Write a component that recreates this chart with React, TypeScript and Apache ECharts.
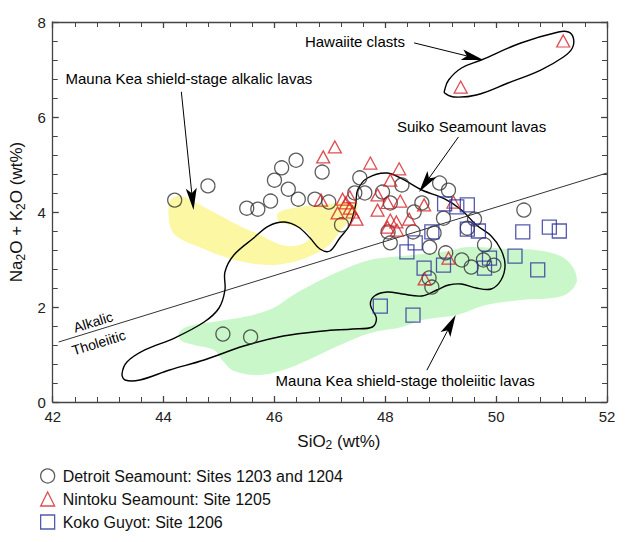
import { useEffect, useRef } from "react";
import * as echarts from "echarts";

const FONT = '"Liberation Sans", Arial, Helvetica, sans-serif';

// Axis ranges (SiO2 wt%, Na2O+K2O wt%)
const xRange = [42, 52];
const yRange = [0, 8];
const xStep = 2;
const yStep = 2;

// Detroit Seamount: Sites 1203 and 1204
const detroit: number[][] = [
  [44.2, 4.25], [44.8, 4.55], [45.5, 4.08], [45.7, 4.06], [45.93, 4.23], [46.0, 4.67],
  [46.13, 4.93], [46.25, 4.48], [46.39, 5.09], [46.43, 4.27], [46.73, 4.27], [46.86, 4.84],
  [46.98, 4.21], [47.21, 3.73], [47.54, 4.72], [47.63, 4.4], [47.45, 4.4], [47.95, 4.42],
  [48.09, 4.19], [48.3, 4.57], [48.66, 4.19], [48.98, 4.61], [49.14, 4.46], [48.05, 3.58],
  [48.09, 3.35], [48.5, 3.58], [48.52, 4.0], [49.05, 3.87], [48.88, 3.56], [48.8, 3.26],
  [49.09, 3.14], [49.38, 2.99], [49.55, 2.84], [49.77, 2.99], [49.96, 2.88], [49.79, 3.31],
  [49.48, 3.66], [49.61, 3.85], [50.5, 4.04], [48.79, 2.61], [48.84, 2.42], [45.07, 1.43],
  [45.57, 1.37],
];

// Nintoku Seamount: Site 1205
const nintoku: number[][] = [
  [49.36, 6.63], [51.21, 7.6], [47.09, 5.37], [46.88, 5.16], [47.73, 5.03], [48.25, 4.91],
  [48.09, 4.67], [47.86, 4.36], [48.04, 4.2], [48.27, 4.23], [48.7, 4.15], [47.86, 4.04],
  [48.43, 3.85], [48.09, 3.83], [48.2, 3.79], [48.04, 3.68], [48.21, 3.62], [47.23, 4.27],
  [47.36, 4.32], [46.84, 4.25], [47.14, 3.98], [47.36, 4.08], [47.41, 4.0], [47.48, 3.85],
  [47.29, 4.19], [49.23, 4.21], [49.14, 3.03], [48.71, 2.59],
];

// Koko Guyot: Site 1206
const koko: number[][] = [
  [49.07, 4.17], [49.29, 4.11], [49.48, 4.15], [49.48, 3.64], [49.68, 3.6], [48.84, 3.58],
  [48.54, 3.35], [48.39, 3.16], [48.7, 2.82], [49.05, 2.88], [49.88, 3.03], [49.79, 2.82],
  [50.34, 3.07], [50.75, 2.78], [50.48, 3.58], [50.96, 3.68], [51.14, 3.6], [47.91, 2.02],
  [48.5, 1.83],
];

// Mauna Kea shield-stage alkalic lavas field
const alkalicField: number[][] = [
  [44.125, 4.253], [44.304, 4.337], [44.589, 4.189], [45.0, 3.937], [45.446, 3.663],
  [45.714, 3.537], [45.911, 3.411], [46.214, 3.284], [46.5, 3.326], [46.643, 3.474],
  [46.518, 3.642], [46.286, 3.726], [46.089, 3.789], [46.054, 3.958], [46.25, 4.063],
  [46.607, 4.126], [46.964, 4.168], [47.286, 4.211], [47.5, 4.15], [47.45, 3.958],
  [47.232, 3.663], [46.964, 3.284], [46.607, 3.053], [46.25, 2.926], [45.893, 2.884],
  [45.446, 2.947], [45.0, 3.095], [44.643, 3.263], [44.339, 3.411], [44.161, 3.579],
  [44.089, 3.937],
];

// Mauna Kea shield-stage tholeiitic lavas field
const tholeiiticField: number[][] = [
  [44.286, 1.474], [44.464, 1.6], [45.0, 1.705], [45.536, 1.811], [45.982, 1.979],
  [46.339, 2.253], [46.696, 2.484], [47.143, 2.737], [47.714, 2.989], [48.304, 3.074],
  [49.018, 3.158], [49.5, 3.263], [50.214, 3.221], [50.714, 3.2], [51.161, 3.074],
  [51.393, 2.821], [51.446, 2.505], [51.196, 2.232], [50.446, 2.147], [49.821, 2.042],
  [49.286, 1.832], [48.661, 1.726], [48.304, 1.579], [47.732, 1.453], [47.143, 1.179],
  [46.607, 0.884], [46.161, 0.674], [45.714, 0.568], [45.268, 0.653], [45.054, 0.884],
  [44.911, 1.095], [44.554, 1.2], [44.304, 1.305],
];

// Suiko Seamount lavas outline
const suikoOutline: number[][] = [
  [43.25, 0.589], [43.339, 0.842], [43.661, 1.095], [44.196, 1.347], [44.732, 1.684],
  [45.0, 1.979], [45.107, 2.358], [45.107, 2.737], [45.268, 3.095], [45.625, 3.453],
  [45.893, 3.705], [46.179, 3.789], [46.429, 3.684], [46.643, 3.453], [46.821, 3.221],
  [47.0, 3.179], [47.179, 3.453], [47.357, 3.726], [47.464, 4.147], [47.5, 4.463],
  [47.679, 4.716], [48.036, 4.821], [48.339, 4.674], [48.661, 4.463], [49.071, 4.274],
  [49.375, 4.042], [49.643, 3.726], [49.911, 3.495], [50.089, 3.2], [50.161, 2.884],
  [50.089, 2.568], [49.911, 2.379], [49.643, 2.4], [49.375, 2.484], [49.143, 2.463],
  [48.929, 2.358], [48.661, 2.232], [48.304, 2.274], [48.036, 2.316], [47.804, 2.232],
  [47.732, 2.042], [47.839, 1.768], [47.768, 1.579], [47.411, 1.537], [46.875, 1.495],
  [46.161, 1.389], [45.446, 1.179], [44.732, 0.884], [44.107, 0.674], [43.571, 0.463],
  [43.304, 0.463],
];

// Hawaiite clasts outline
const hawaiiteOutline: number[][] = [
  [49.071, 6.568], [49.143, 6.779], [49.375, 7.032], [49.732, 7.2], [50.446, 7.558],
  [51.125, 7.789], [51.304, 7.789], [51.393, 7.663], [51.375, 7.453], [51.214, 7.263],
  [50.804, 6.989], [50.214, 6.716], [49.643, 6.463], [49.232, 6.421], [49.071, 6.505],
];

// Alkalic / tholeiitic dividing line
const dividerLine: number[][] = [[42.107, 1.263], [52, 4.821]];

// Annotation arrows: [fromX, fromY, toX, toY]
const arrows: number[][] = [
  [44.32, 6.53, 44.54, 4.04],
  [48.52, 7.56, 49.77, 7.2],
  [49.32, 5.58, 48.61, 4.42],
  [48.75, 0.67, 49.27, 1.83],
];

// Annotation labels (left anchored)
const labelTexts = [
  "Hawaiite clasts",
  "Mauna Kea shield-stage alkalic lavas",
  "Suiko Seamount lavas",
  "Mauna Kea shield-stage tholeiitic lavas",
];
const labelAnchors: number[][] = [
  [46.55, 7.6],
  [42.23, 6.82],
  [48.21, 5.81],
  [46.02, 0.46],
];

// Labels along the dividing line (centered)
const lineLabelTexts = ["Alkalic", "Tholeiitic"];
const lineLabelAnchors: number[][] = [
  [42.73, 1.684],
  [42.83, 1.25],
];

const seriesNames = [
  "Detroit Seamount: Sites 1203 and 1204",
  "Nintoku Seamount: Site 1205",
  "Koko Guyot: Site 1206",
];

function areaSeries(points: number[][], style: any, smooth: number, z: number) {
  return {
    type: "custom",
    coordinateSystem: "cartesian2d",
    silent: true,
    z,
    clip: false,
    data: [points[0]],
    renderItem: (_p: any, api: any) => ({
      type: "polygon",
      shape: { points: points.map((pt) => api.coord(pt)), smooth },
      style,
    }),
  };
}

export default function App() {
  const ref = useRef<HTMLDivElement>(null);

  useEffect(() => {
    if (!ref.current) return;
    const chart = echarts.init(ref.current, undefined, { renderer: "svg" });

    const axisLineStyle = { color: "#444", width: 1.3 };
    const baseX = {
      type: "value",
      min: xRange[0],
      max: xRange[1],
      interval: xStep,
      axisLine: { show: true, onZero: false, lineStyle: axisLineStyle },
      axisTick: { show: true, inside: true, length: 6, lineStyle: axisLineStyle },
      minorTick: { show: true, splitNumber: 5, length: 5, lineStyle: { color: "#444", width: 1 } },
      splitLine: { show: false },
      minorSplitLine: { show: false },
    };
    const baseY = {
      type: "value",
      min: yRange[0],
      max: yRange[1],
      interval: yStep,
      axisLine: { show: true, onZero: false, lineStyle: axisLineStyle },
      axisTick: { show: true, inside: true, length: 6, lineStyle: axisLineStyle },
      minorTick: { show: true, splitNumber: 5, length: 5, lineStyle: { color: "#444", width: 1 } },
      splitLine: { show: false },
      minorSplitLine: { show: false },
    };

    const nameRich = {
      a: { fontSize: 17, fontFamily: FONT, color: "#111", lineHeight: 20 },
      b: { fontSize: 12, fontFamily: FONT, color: "#111", verticalAlign: "bottom", lineHeight: 13 },
    };

    chart.setOption({
      animation: false,
      backgroundColor: "#fff",
      textStyle: { fontFamily: FONT },
      grid: { left: 47, right: 19, top: 22, bottom: 140, containLabel: false },
      xAxis: [
        {
          ...baseX,
          position: "bottom",
          axisLabel: { show: true, margin: 7, fontSize: 15, color: "#222", fontFamily: FONT },
          name: "{a|SiO}{b|2}{a| (wt%)}",
          nameLocation: "middle",
          nameGap: 29,
          nameTextStyle: { rich: nameRich, padding: [0, 0, 0, 18] },
        },
        { ...baseX, position: "top", axisLabel: { show: false } },
      ],
      yAxis: [
        {
          ...baseY,
          position: "left",
          axisLabel: { show: true, margin: 7, fontSize: 15, color: "#222", fontFamily: FONT },
          name: "{a|Na}{b|2}{a|O + K}{b|2}{a|O (wt%)}",
          nameLocation: "middle",
          nameGap: 22,
          nameRotate: 90,
          nameTextStyle: { rich: nameRich },
        },
        { ...baseY, position: "right", axisLabel: { show: false } },
      ],
      legend: {
        show: true,
        orient: "vertical",
        left: 40,
        top: 468,
        padding: 0,
        itemWidth: 14,
        itemHeight: 14,
        itemGap: 7,
        selectedMode: false,
        textStyle: { fontSize: 16, color: "#111", fontFamily: FONT, padding: [0, 0, 0, 3] },
        data: [
          { name: seriesNames[0], icon: "circle", itemStyle: { color: "rgba(0,0,0,0)", borderColor: "#333", borderWidth: 1.3 } },
          { name: seriesNames[1], icon: "triangle", itemStyle: { color: "rgba(0,0,0,0)", borderColor: "#d42127", borderWidth: 1.3 } },
          { name: seriesNames[2], icon: "rect", itemStyle: { color: "rgba(0,0,0,0)", borderColor: "#2b2f98", borderWidth: 1.3 } },
        ],
      },
      series: [
        areaSeries(alkalicField, { fill: "#fbf7a2", stroke: "none" }, 0.35, 1),
        areaSeries(tholeiiticField, { fill: "#caf7ca", stroke: "none" }, 0.35, 1),
        {
          type: "line",
          data: dividerLine,
          symbol: "none",
          silent: true,
          z: 2,
          lineStyle: { color: "#333", width: 1 },
        },
        areaSeries(suikoOutline, { fill: "none", stroke: "#000", lineWidth: 1.4 }, 0.35, 3),
        areaSeries(hawaiiteOutline, { fill: "none", stroke: "#000", lineWidth: 1.4 }, 0.4, 3),
        {
          type: "scatter",
          name: seriesNames[0],
          data: detroit,
          symbol: "circle",
          symbolSize: 14,
          z: 4,
          itemStyle: { color: "rgba(0,0,0,0)", borderColor: "#333", borderWidth: 1.3 },
        },
        {
          type: "scatter",
          name: seriesNames[1],
          data: nintoku,
          symbol: "triangle",
          symbolSize: [13, 12],
          z: 4,
          itemStyle: { color: "rgba(0,0,0,0)", borderColor: "#d42127", borderWidth: 1.3 },
        },
        {
          type: "scatter",
          name: seriesNames[2],
          data: koko,
          symbol: "rect",
          symbolSize: 14,
          z: 4,
          itemStyle: { color: "rgba(0,0,0,0)", borderColor: "#2b2f98", borderWidth: 1.3 },
        },
        {
          type: "custom",
          coordinateSystem: "cartesian2d",
          silent: true,
          z: 6,
          clip: false,
          encode: { x: [0, 2], y: [1, 3] },
          data: arrows,
          renderItem: (_p: any, api: any) => {
            const a = api.coord([api.value(0), api.value(1)]);
            const b = api.coord([api.value(2), api.value(3)]);
            const dx = b[0] - a[0];
            const dy = b[1] - a[1];
            const len = Math.sqrt(dx * dx + dy * dy);
            const ux = dx / len;
            const uy = dy / len;
            const px = -uy;
            const py = ux;
            const L = 22;
            const W = 5.5;
            const N = 17;
            const base = [b[0] - ux * L, b[1] - uy * L];
            const notch = [b[0] - ux * N, b[1] - uy * N];
            return {
              type: "group",
              children: [
                {
                  type: "line",
                  shape: { x1: a[0], y1: a[1], x2: notch[0], y2: notch[1] },
                  style: { stroke: "#000", lineWidth: 1 },
                },
                {
                  type: "polygon",
                  shape: {
                    points: [
                      [b[0], b[1]],
                      [base[0] + px * W, base[1] + py * W],
                      [notch[0], notch[1]],
                      [base[0] - px * W, base[1] - py * W],
                    ],
                  },
                  style: { fill: "#000", stroke: "none" },
                },
              ],
            };
          },
        },
        {
          type: "custom",
          coordinateSystem: "cartesian2d",
          silent: true,
          z: 7,
          clip: false,
          data: labelAnchors,
          renderItem: (p: any, api: any) => {
            const c = api.coord([api.value(0), api.value(1)]);
            return {
              type: "text",
              x: c[0],
              y: c[1],
              style: {
                text: labelTexts[p.dataIndex],
                fill: "#000",
                fontSize: 15,
                fontFamily: FONT,
                align: "left",
                verticalAlign: "middle",
              },
            };
          },
        },
        {
          type: "custom",
          coordinateSystem: "cartesian2d",
          silent: true,
          z: 7,
          clip: false,
          data: lineLabelAnchors,
          renderItem: (p: any, api: any) => {
            const c = api.coord([api.value(0), api.value(1)]);
            const l0 = api.coord(dividerLine[0]);
            const l1 = api.coord(dividerLine[1]);
            const rot = Math.atan2(l0[1] - l1[1], l1[0] - l0[0]);
            return {
              type: "text",
              x: c[0],
              y: c[1],
              rotation: rot,
              style: {
                text: lineLabelTexts[p.dataIndex],
                fill: "#000",
                fontSize: 14,
                fontFamily: FONT,
                align: "center",
                verticalAlign: "middle",
              },
            };
          },
        },
      ],
    });

    return () => chart.dispose();
  }, []);

  return (
    <div
      ref={ref}
      style={{ position: "absolute", left: 0, top: 0, width: 626, height: 542, background: "#fff" }}
    />
  );
}
